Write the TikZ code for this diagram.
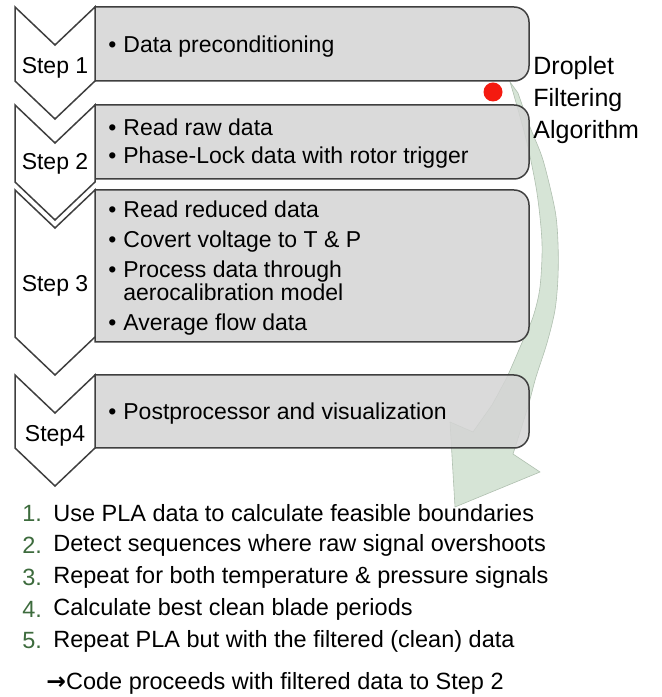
\documentclass[tikz,border=0pt]{standalone}
\usepackage{fontspec}
\setmainfont{Liberation Sans}
\newfontfamily\arrowfont{DejaVu Sans}
\usetikzlibrary{positioning}
\definecolor{BoxGray}{HTML}{D4D4D4}
\definecolor{EdgeGray}{HTML}{3F3F3F}
\definecolor{LoopGreen}{HTML}{D6E4D6}
\definecolor{LoopEdge}{HTML}{B0C0B0}
\definecolor{ListGreen}{HTML}{3D6B3D}
\definecolor{DotRed}{HTML}{F41A10}
\newcommand{\itembul}{\makebox[7.5pt][l]{\textbullet}}

\begin{document}
\begin{tikzpicture}[x=0.5pt,y=0.5pt,
    chev/.style={draw=EdgeGray,fill=white,line width=0.75pt},
    box/.style={draw=EdgeGray,fill=BoxGray,fill opacity=0.85,line width=0.75pt},
    steplabel/.style={font=\fontsize{11.5}{13}\selectfont,inner sep=0pt},
    boxtext/.style={anchor=west,align=left,font=\fontsize{11.5}{11.5}\selectfont,inner sep=0pt},
    listtext/.style={anchor=west,font=\fontsize{11.75}{14}\selectfont,inner sep=0pt}]
  \useasboundingbox (0,0) rectangle (661,697);
  % loop arrow first, the boxes sit on it
  \filldraw[fill=LoopGreen,draw=LoopEdge,line width=0.3pt]
    (510,615) -- plot[smooth] coordinates {(518,604) (530,570) (543,537) (555,487) (558,454)
      (558,420) (555,387) (547,354) (536,320) (529,294) (521,268) (513,243)}
    -- (540,225) -- (455,190) -- (450,275) -- (473,265)
    -- plot[smooth] coordinates {(492,292) (507,320) (521,352) (533,380) (540,410)
      (542,454) (537,504) (527,554) (515,598) (510,615)} -- cycle;
  \foreach \n/\top/\bot in {1/690/616, 2/592/518, 3/507/355, 4/322/249}
    \draw[box] (95,\bot) -- (95,\top) -- (514,\top) arc[start angle=90,end angle=0,radius=15]
      -- (529,\bot+15) arc[start angle=0,end angle=-90,radius=15] -- cycle;
  \foreach \n/\top/\side/\laby/\txt in {1/690/616/629/Step 1, 2/592/515/533/Step 2,
      3/507/360/411/Step 3, 4/322/249/261/Step4} {
    \draw[chev] (15,\top) -- (55,\top-38) -- (95,\top) -- (95,\side) -- (55,\side-38) -- (15,\side) -- cycle;
    \node[steplabel] (step\n) at (55,\laby) {\txt};
  }
  \node[boxtext] (txt1) at (108,650) {\itembul Data preconditioning};
  \node[boxtext] (txt2) at (108,553) {\itembul Read raw data\\[2.5pt]\itembul Phase-Lock data with rotor trigger};
  \node[boxtext] (txt3) at (108,429) {\itembul Read reduced data\\[3.5pt]\itembul Covert voltage to T \& P\\[3.5pt]%
    \itembul Process data through\\\hspace*{7.5pt}aerocalibration model\\[3.5pt]\itembul Average flow data};
  \node[boxtext] (txt4) at (108,283) {\itembul Postprocessor and visualization};
  \node[circle,fill=DotRed,inner sep=0pt,minimum size=9.5pt] (dot) at (493,605) {};
  \node[anchor=west,align=left,font=\fontsize{12.5}{16}\selectfont,inner sep=0pt] (algo) at (533,597)
    {Droplet\\Filtering\\Algorithm};
  \foreach [count=\i] \t in {{Use PLA data to calculate feasible boundaries},
      {Detect sequences where raw signal overshoots},
      {Repeat for both temperature \& pressure signals},
      {Calculate best clean blade periods},
      {Repeat PLA but with the filtered (clean) data}} {
    \node[listtext,text=ListGreen] (num\i) at (22,216-32*\i) {\i.};
    \node[listtext] (item\i) at (53,216-32*\i) {\t};
  }
  \node[listtext] (goto) at (46,14) {{\arrowfont\bfseries →}Code proceeds with filtered data to Step 2};
\end{tikzpicture}
\end{document}
